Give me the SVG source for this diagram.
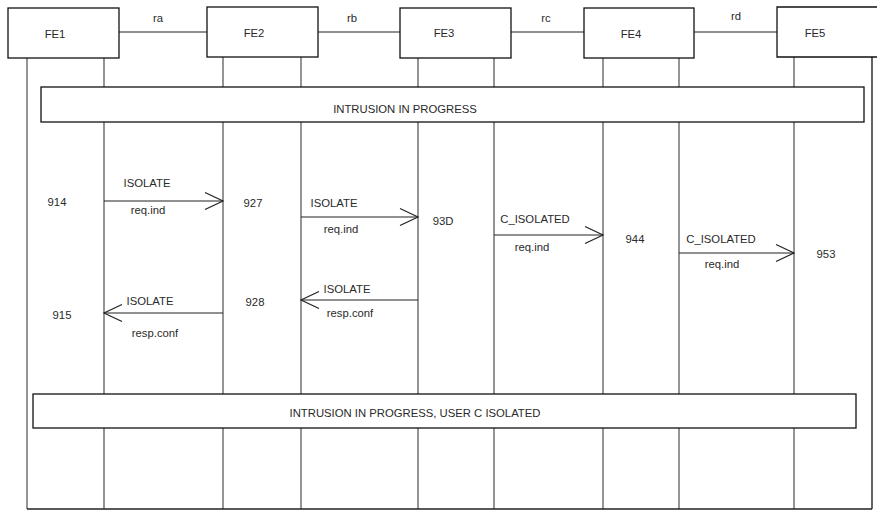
<svg xmlns="http://www.w3.org/2000/svg" width="877" height="510" viewBox="0 0 877 510">
<style>
text{font-family:"Liberation Sans",Arial,sans-serif;font-size:11.3px;fill:#2a2a2a;text-anchor:middle}
.box{fill:#fff;stroke:#111;stroke-width:1.3}
.life{stroke:#7a7a7a;stroke-width:1.6;fill:none}
.link{stroke:#222;stroke-width:1.2;fill:none}
.msg{stroke:#222;stroke-width:1.2;fill:none;marker-end:url(#open)}
</style>
<defs>
<marker id="open" viewBox="-20 -10 22 20" refX="0" refY="0" markerWidth="22" markerHeight="20" markerUnits="userSpaceOnUse" orient="auto">
<path d="M-18,-8.5 L0,0 L-18,8.5" fill="none" stroke="#222" stroke-width="1.2"/>
</marker>
</defs>
<rect width="877" height="510" fill="#fff"/>
<g id="lifelines">
<line class="life" x1="27" y1="58" x2="27" y2="509"/>
<line class="life" x1="104" y1="58" x2="104" y2="509"/>
<line class="life" x1="223" y1="57" x2="223" y2="509"/>
<line class="life" x1="301" y1="57" x2="301" y2="509"/>
<line class="life" x1="418" y1="58" x2="418" y2="509"/>
<line class="life" x1="494" y1="58" x2="494" y2="509"/>
<line class="life" x1="603" y1="58" x2="603" y2="509"/>
<line class="life" x1="679" y1="58" x2="679" y2="509"/>
<line class="life" x1="794" y1="57" x2="794" y2="509"/>
<line x1="872" y1="57" x2="872" y2="509" stroke="#111" stroke-width="1.3"/>
<line x1="27" y1="509" x2="872" y2="509" stroke="#222" stroke-width="1.3"/>
</g>
<g id="connectors">
<line class="link" x1="119" y1="32" x2="207" y2="32"/>
<line class="link" x1="318" y1="32" x2="400" y2="32"/>
<line class="link" x1="511" y1="32" x2="584" y2="32"/>
<line class="link" x1="694" y1="32" x2="777" y2="32"/>
<text x="158" y="22">ra</text>
<text x="352" y="22">rb</text>
<text x="546" y="22">rc</text>
<text x="736" y="20">rd</text>
<line class="msg" x1="104" y1="201" x2="223" y2="201"/>
<line class="msg" x1="301" y1="217" x2="418" y2="217"/>
<line class="msg" x1="223" y1="313" x2="104" y2="313"/>
<line class="msg" x1="418" y1="300" x2="301" y2="300"/>
<line class="msg" x1="494" y1="235" x2="603" y2="235"/>
<line class="msg" x1="679" y1="253" x2="794" y2="253"/>
<text x="147" y="187">ISOLATE</text>
<text x="148" y="214">req.ind</text>
<text x="334" y="207">ISOLATE</text>
<text x="341" y="233">req.ind</text>
<text x="150" y="305">ISOLATE</text>
<text x="155" y="337">resp.conf</text>
<text x="347" y="293">ISOLATE</text>
<text x="350" y="317">resp.conf</text>
<text x="535" y="223">C_ISOLATED</text>
<text x="532" y="251">req.ind</text>
<text x="721" y="243">C_ISOLATED</text>
<text x="722" y="268">req.ind</text>
</g>
<g id="FE1"><rect class="box" x="8" y="8" width="111" height="50"/><text x="55" y="38">FE1</text></g>
<g id="FE2"><rect class="box" x="207" y="7" width="111" height="50"/><text x="254" y="37">FE2</text></g>
<g id="FE3"><rect class="box" x="400" y="8" width="111" height="50"/><text x="444" y="37">FE3</text></g>
<g id="FE4"><rect class="box" x="584" y="8" width="110" height="50"/><text x="631" y="38">FE4</text></g>
<g id="FE5"><path class="box" d="M877,7 H777 V57 H877"/><text x="815" y="37">FE5</text></g>
<g id="state1"><rect class="box" x="41" y="87" width="823" height="35"/><text x="405" y="113">INTRUSION IN PROGRESS</text></g>
<g id="state2"><rect class="box" x="33" y="394" width="823" height="34"/><text x="415" y="417">INTRUSION IN PROGRESS, USER C ISOLATED</text></g>
<g id="labels">
<text x="57" y="206">914</text>
<text x="62" y="319">915</text>
<text x="253" y="207">927</text>
<text x="255" y="306">928</text>
<text x="443" y="225">93D</text>
<text x="635" y="243">944</text>
<text x="826" y="258">953</text>
</g>
</svg>
